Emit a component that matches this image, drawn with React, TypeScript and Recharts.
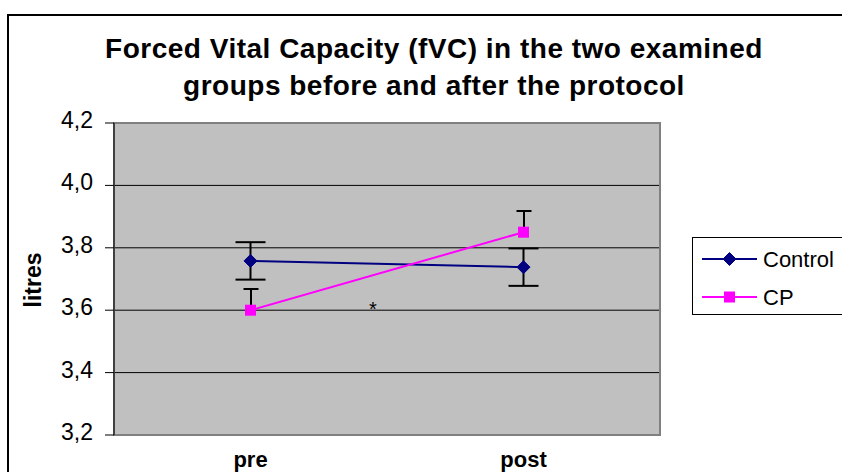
import React from 'react';
import {
  ComposedChart,
  Line,
  Bar,
  XAxis,
  YAxis,
  CartesianGrid,
  ErrorBar,
  ReferenceArea,
  Legend,
} from 'recharts';

const categories = ['pre', 'post'];
const controlValues = [3.758, 3.738];
const controlErrors = [0.06, 0.06];
const cpValues = [3.6, 3.85];
const cpUpperErrors = [0.068, 0.068];
const yTicks = [3.2, 3.4, 3.6, 3.8, 4.0, 4.2];
const seriesNames = ['Control', 'CP'];

const FONT = '"Liberation Sans", Arial, sans-serif';
const NAVY = '#000080';
const MAGENTA = '#FF00FF';

const data = categories.map((c, i) => ({
  phase: c,
  control: controlValues[i],
  controlErr: [controlErrors[i], controlErrors[i]],
  cp: cpValues[i],
  cpRange: [cpValues[i], cpValues[i] + cpUpperErrors[i]],
}));

const Diamond = (props: any) => {
  const { cx, cy } = props;
  if (cx == null || cy == null) return null;
  const r = 6.5;
  return (
    <polygon
      points={`${cx},${cy - r} ${cx + r},${cy} ${cx},${cy + r} ${cx - r},${cy}`}
      fill={NAVY}
      stroke={NAVY}
      strokeWidth={1}
    />
  );
};

const Square = (props: any) => {
  const { cx, cy } = props;
  if (cx == null || cy == null) return null;
  const s = 5.5;
  return <rect x={cx - s} y={cy - s} width={2 * s} height={2 * s} fill={MAGENTA} />;
};

const UpperWhisker = (props: any) => {
  const { x, y, width, height } = props;
  if (x == null || y == null) return null;
  const cx = x + width / 2;
  return (
    <g>
      <line x1={cx} x2={cx} y1={y} y2={y + height} stroke="#000" strokeWidth={2} />
      <line x1={cx - 7.5} x2={cx + 7.5} y1={y} y2={y} stroke="#000" strokeWidth={2} />
    </g>
  );
};

const YTick = (props: any) => {
  const { x, y, payload } = props;
  return (
    <text x={x} y={y} dy={5} textAnchor="end" fontSize={23} fontFamily={FONT} fill="#000">
      {Number(payload.value).toFixed(1).replace('.', ',')}
    </text>
  );
};

const XTick = (props: any) => {
  const { x, y, payload } = props;
  return (
    <text x={x} y={y} dy={32} textAnchor="middle" fontSize={22} fontWeight="bold" fontFamily={FONT} fill="#000">
      {payload.value}
    </text>
  );
};

const LegendContent = () => (
  <div
    style={{
      width: 160,
      height: 78,
      border: '1px solid #000',
      background: '#fff',
      boxSizing: 'border-box',
    }}
  >
    <svg width={160} height={76}>
      <line x1={9} x2={64} y1={21} y2={21} stroke={NAVY} strokeWidth={2} />
      <Diamond cx={36.5} cy={21} />
      <text x={70} y={29} fontSize={22} fontFamily={FONT} fill="#000">
        {seriesNames[0]}
      </text>
      <line x1={9} x2={64} y1={59} y2={59} stroke={MAGENTA} strokeWidth={2} />
      <Square cx={36.5} cy={59} />
      <text x={70} y={67} fontSize={22} fontFamily={FONT} fill="#000">
        {seriesNames[1]}
      </text>
    </svg>
  </div>
);

export default function App() {
  return (
    <div
      style={{
        position: 'absolute',
        left: 0,
        top: 0,
        width: 842,
        height: 472,
        overflow: 'hidden',
        background: '#fff',
        fontFamily: FONT,
      }}
    >
      <div
        style={{
          position: 'absolute',
          left: 7,
          top: 14,
          width: 1000,
          height: 1000,
          borderLeft: '2px solid #000',
          borderTop: '2px solid #000',
        }}
      />
      <ComposedChart
        width={842}
        height={472}
        data={data}
        margin={{ top: 123, right: 182, bottom: 0, left: 0 }}
      >
        <CartesianGrid horizontal vertical={false} stroke="#000" fill="#C0C0C0" />
        <ReferenceArea y1={3.2} y2={4.2} fill="none" stroke="#808080" strokeWidth={2} ifOverflow="visible" />
        <XAxis
          dataKey="phase"
          type="category"
          height={37}
          axisLine={false}
          tickLine={false}
          tickSize={0}
          tickMargin={0}
          tick={<XTick />}
          interval={0}
        />
        <YAxis
          type="number"
          domain={[3.2, 4.2]}
          ticks={yTicks}
          width={114}
          axisLine={{ stroke: '#000' }}
          tickLine={{ stroke: '#000' }}
          tickSize={9}
          tickMargin={12}
          tick={<YTick />}
          interval={0}
        />
        <Bar dataKey="cpRange" barSize={16} shape={<UpperWhisker />} isAnimationActive={false} legendType="none" />
        <Line
          dataKey="control"
          name={seriesNames[0]}
          stroke={NAVY}
          strokeWidth={2}
          dot={<Diamond />}
          activeDot={false}
          isAnimationActive={false}
        >
          <ErrorBar dataKey="controlErr" width={15} stroke="#000" strokeWidth={2} direction="y" />
        </Line>
        <Line
          dataKey="cp"
          name={seriesNames[1]}
          stroke={MAGENTA}
          strokeWidth={2}
          dot={<Square />}
          activeDot={false}
          isAnimationActive={false}
        />
        <Legend
          layout="horizontal"
          verticalAlign="middle"
          align="center"
          content={<LegendContent />}
          wrapperStyle={{ position: 'absolute', left: 692, top: 237, width: 160, height: 78 }}
        />
      </ComposedChart>
      <svg
        width={842}
        height={472}
        style={{ position: 'absolute', left: 0, top: 0, pointerEvents: 'none' }}
      >
        <text x={434} y={58} textAnchor="middle" fontSize={28} fontWeight="bold" fontFamily={FONT} fill="#000" letterSpacing={0.5}>
          Forced Vital Capacity (fVC) in the two examined
        </text>
        <text x={434} y={95} textAnchor="middle" fontSize={28} fontWeight="bold" fontFamily={FONT} fill="#000" letterSpacing={0.5}>
          groups before and after the protocol
        </text>
        <text
          x={0}
          y={0}
          transform="translate(41, 280) rotate(-90)"
          textAnchor="middle"
          fontSize={23}
          fontWeight="bold"
          fontFamily={FONT}
          fill="#000"
        >
          litres
        </text>
        <text x={373} y={316} textAnchor="middle" fontSize={20} fontFamily={FONT} fill="#000">
          *
        </text>
      </svg>
    </div>
  );
}
